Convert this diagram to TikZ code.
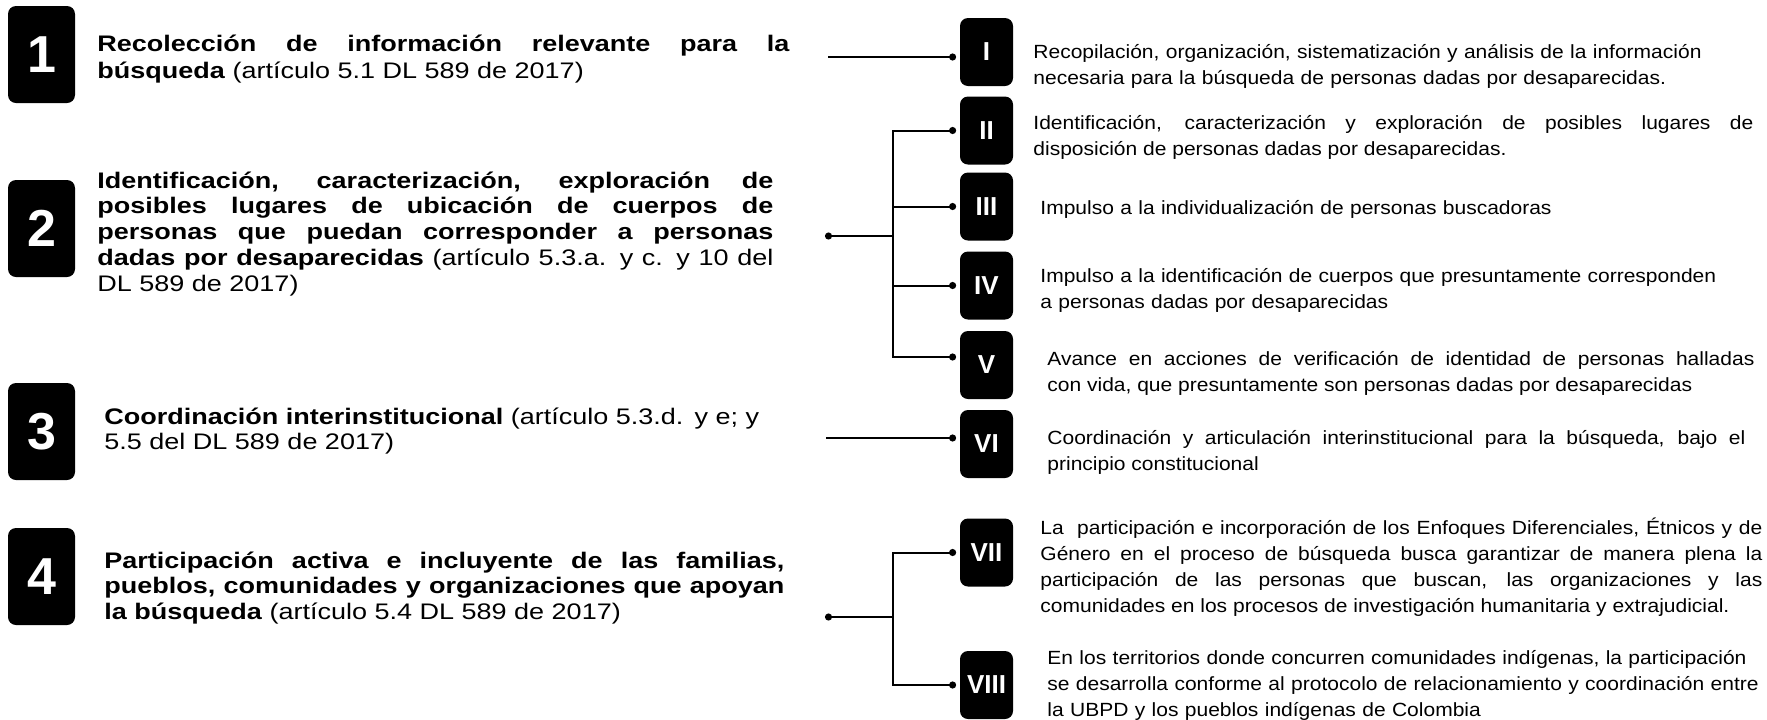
\documentclass[tikz,border=0pt]{standalone}
\usepackage{fontspec}
\setmainfont{Liberation Sans}
\newfontfamily\leftfont[FakeStretch=1.2]{Liberation Sans}
\newfontfamily\rightfont[FakeStretch=1.1]{Liberation Sans}
\usetikzlibrary{arrows.meta}
\hyphenpenalty=10000
\exhyphenpenalty=10000
\tolerance=9999

\begin{document}
\begin{tikzpicture}[x=0.5pt,y=-0.5pt,
  numbox/.style={fill=black,rounded corners=4pt,minimum width=33.5pt,minimum height=48.5pt,inner sep=0pt,text=white,font=\bfseries\fontsize{26}{26}\selectfont},
  romanbox/.style={fill=black,rounded corners=4pt,minimum width=26.5pt,minimum height=34pt,inner sep=0pt,text=white,font=\bfseries\fontsize{13}{13}\selectfont},
  lefttext/.style={anchor=base west,inner sep=0pt,text width=#1,align=justify,font=\leftfont\fontsize{11.25}{12.9}\selectfont},
  righttext/.style={anchor=base west,inner sep=0pt,text width=#1,align=justify,font=\rightfont\fontsize{9.55}{13}\selectfont},
  link/.style={line width=1pt,shorten >=1.75pt,-{Circle[length=3.5pt]}},
  fork/.style={line width=1pt,{Circle[length=3.5pt]}-},
  bar/.style={line width=1pt,line cap=rect}]
\useasboundingbox (0,0) rectangle (1767,719);

\node[numbox] (n1) at (41.5,54.5) {1};
\node[numbox] (n2) at (41.5,228.5) {2};
\node[numbox] (n3) at (41.5,431.5) {3};
\node[numbox] (n4) at (41.5,576.5) {4};

\node[lefttext=346pt,font=\leftfont\fontsize{11.25}{13.8}\selectfont] (t1) at (97,51) {\textbf{Recolección de información relevante para la\linebreak búsqueda} (artículo 5.1 DL 589 de 2017)};
\node[lefttext=338pt] (t2) at (97,188) {\textbf{Identificación, caracterización, exploración de\linebreak posibles lugares de ubicación de cuerpos de\linebreak personas que puedan corresponder a personas\linebreak dadas por desaparecidas} (artículo 5.3.a. y c. y 10 del\linebreak DL 589 de 2017)};
\node[lefttext=340pt,align=left] (t3) at (104,424) {\textbf{Coordinación interinstitucional} (artículo 5.3.d. y e; y\\5.5 del DL 589 de 2017)};
\node[lefttext=340pt] (t4) at (104,568) {\textbf{Participación activa e incluyente de las familias,\linebreak pueblos, comunidades y organizaciones que apoyan\linebreak la búsqueda} (artículo 5.4 DL 589 de 2017)};

\node[romanbox] (I) at (986.5,52) {I};
\node[romanbox] (II) at (986.5,130.5) {II};
\node[romanbox] (III) at (986.5,206.5) {III};
\node[romanbox] (IV) at (986.5,285.5) {IV};
\node[romanbox] (V) at (986.5,365) {V};
\node[romanbox] (VI) at (986.5,444) {VI};
\node[romanbox] (VII) at (986.5,552.5) {VII};
\node[romanbox] (VIII) at (986.5,685) {VIII};

\node[righttext=365pt,align=left] (r1) at (1033,58) {Recopilación, organización, sistematización y análisis de la información\\necesaria para la búsqueda de personas dadas por desaparecidas.};
\node[righttext=360pt] (r2) at (1033,129) {Identificación, caracterización y exploración de posibles lugares de\linebreak disposición de personas dadas por desaparecidas.};
\node[righttext=365pt,align=left] (r3) at (1040,214) {Impulso a la individualización de personas buscadoras};
\node[righttext=365pt,align=left] (r4) at (1040,282) {Impulso a la identificación de cuerpos que presuntamente corresponden\\a personas dadas por desaparecidas};
\node[righttext=353.5pt] (r5) at (1047,365) {Avance en acciones de verificación de identidad de personas halladas\linebreak con vida, que presuntamente son personas dadas por desaparecidas};
\node[righttext=349pt] (r6) at (1047,444) {Coordinación y articulación interinstitucional para la búsqueda, bajo el\linebreak principio constitucional};
\node[righttext=361pt] (r7) at (1040,534) {La\ \ participación e incorporación de los Enfoques Diferenciales, Étnicos y de\linebreak Género en el proceso de búsqueda busca garantizar de manera plena la\linebreak participación de las personas que buscan, las organizaciones y las\linebreak comunidades en los procesos de investigación humanitaria y extrajudicial.};
\node[righttext=365pt,align=left] (r8) at (1047,664) {En los territorios donde concurren comunidades indígenas, la participación\\se desarrolla conforme al protocolo de relacionamiento y coordinación entre\\la UBPD y los pueblos indígenas de Colombia};

\coordinate (s1) at (828,57);
\draw[link] (s1) -- (s1 -| I.west);

\coordinate (s2) at (825,236);
\coordinate (b2) at (893,236);
\coordinate (v5) at ([yshift=4pt]V.west);
\draw[fork] (s2) -- (b2);
\draw[bar] (b2 |- II.west) -- (b2 |- v5);
\draw[link] (b2 |- II.west) -- (II.west);
\draw[link] (b2 |- III.west) -- (III.west);
\draw[link] (b2 |- IV.west) -- (IV.west);
\draw[link] (b2 |- v5) -- (v5);

\coordinate (s3) at (826,438);
\draw[link] (s3) -- (s3 -| VI.west);

\coordinate (s4) at (825,617);
\coordinate (b4) at (893,617);
\draw[fork] (s4) -- (b4);
\draw[bar] (b4 |- VII.west) -- (b4 |- VIII.west);
\draw[link] (b4 |- VII.west) -- (VII.west);
\draw[link] (b4 |- VIII.west) -- (VIII.west);

\end{tikzpicture}
\end{document}
